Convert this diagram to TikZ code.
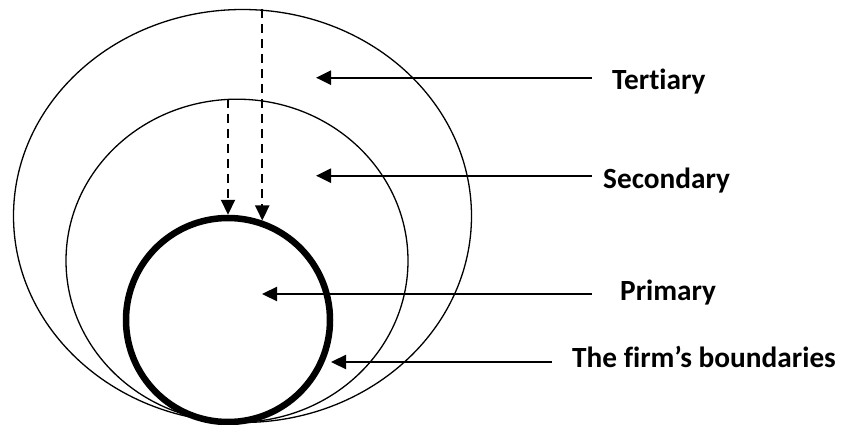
\documentclass[tikz,border=0pt]{standalone}
\usepackage{fontspec}
\setmainfont{Carlito}[Ligatures=NoCommon]
\usetikzlibrary{arrows.meta,calc,shapes.geometric}
\tikzset{
  ring/.style={draw, ellipse, inner sep=0pt, line width=1.3pt},
  bound/.style={draw, circle, inner sep=0pt, line width=6.5pt,
                minimum size=204pt},
  lbl/.style={font=\fontsize{29.3}{35}\selectfont\bfseries, inner sep=0pt,
              anchor=base west},
  sig/.style={-{Triangle[length=15pt,width=14pt]}, line width=2.3pt},
  dsig/.style={sig, line width=2.2pt, dash pattern=on 9pt off 6pt},
}

\begin{document}
\begin{tikzpicture}[x=1pt,y=-1pt]
    \useasboundingbox (0,0) rectangle (843,425);
    % the three rings
    \node[ring,minimum width=458pt,minimum height=413pt] (ter) at (242.5,216) {};
    \node[ring,minimum width=342pt,minimum height=323pt] (sec) at (237,260.7) {};
    \node[bound] (firm) at (228,320) {};
    % labels
    \node[lbl] (terlbl) at (612,89.3) {Tertiary};
    \node[lbl] (seclbl) at (603,188.3) {Secondary};
    \node[lbl] (prilbl) at (620,300.7) {Primary};
    \node[lbl] (firmlbl) at (572,367.3) {The firm’s boundaries};
    \coordinate (terpt) at (316,77.7);
    \coordinate (secpt) at (316,175.7);
    \coordinate (pript) at (262,294);
    \coordinate (firmpt) at (331,362);
    \draw[sig] ($(terlbl.west |- terpt)+(-20,0)$) -- (terpt);
    \draw[sig] ($(seclbl.west |- secpt)+(-11,0)$) -- (secpt);
    \draw[sig] ($(prilbl.west |- pript)+(-28,0)$) -- (pript);
    \draw[sig] ($(firmlbl.west |- firmpt)+(-20,0)$) -- (firmpt);
    % dashed links down to the firm
    \draw[dsig] (ter.north -| firm.71) -- (firm.71);
    \draw[dsig] (sec.north -| firm.north) -- (firm.north);
  \end{tikzpicture}
\end{document}
